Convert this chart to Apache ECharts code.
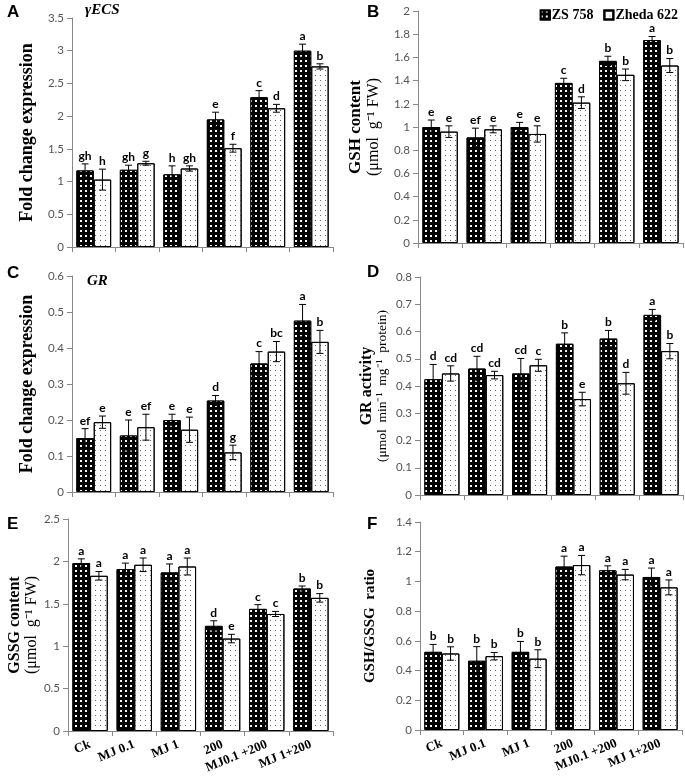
<!DOCTYPE html>
<html><head><meta charset="utf-8">
<script src="https://cdn.jsdelivr.net/npm/echarts@6/dist/echarts.min.js"></script>
<style>html,body{margin:0;padding:0;background:#fff}#c{width:685px;height:784px}</style>
</head><body><div id="c"></div>
<script>
var categories = ['Ck','MJ 0.1','MJ 1','200','MJ0.1 +200','MJ 1+200'];
var seriesNames = ['ZS 758','Zheda 622'];

// A: gamma ECS fold change
var aZS = [1.17, 1.18, 1.11, 1.95, 2.29, 3.00];
var aZSErr = [0.10, 0.07, 0.13, 0.11, 0.10, 0.10];
var aZSLet = ['gh','gh','h','e','c','a'];
var aZH = [1.03, 1.28, 1.20, 1.51, 2.12, 2.76];
var aZHErr = [0.16, 0.03, 0.04, 0.06, 0.06, 0.04];
var aZHLet = ['h','g','gh','f','d','b'];
var aTicks = {min:0, max:3.5, interval:0.5};

// B: GSH content
var bZS = [1.00, 0.91, 1.00, 1.38, 1.57, 1.75];
var bZSErr = [0.06, 0.08, 0.04, 0.04, 0.04, 0.03];
var bZSLet = ['e','ef','e','c','b','a'];
var bZH = [0.96, 0.98, 0.94, 1.21, 1.45, 1.53];
var bZHErr = [0.05, 0.03, 0.07, 0.05, 0.05, 0.06];
var bZHLet = ['e','e','e','d','b','b'];
var bTicks = {min:0, max:2, interval:0.2};

// C: GR fold change
var cZS = [0.150, 0.157, 0.200, 0.254, 0.357, 0.476];
var cZSErr = [0.026, 0.043, 0.016, 0.014, 0.033, 0.045];
var cZSLet = ['ef','e','e','d','c','a'];
var cZH = [0.194, 0.180, 0.173, 0.110, 0.390, 0.417];
var cZHErr = [0.017, 0.036, 0.035, 0.020, 0.028, 0.032];
var cZHLet = ['e','ef','e','g','bc','b'];
var cTicks = {min:0, max:0.6, interval:0.1};

// D: GR activity
var dZS = [0.425, 0.464, 0.446, 0.555, 0.574, 0.661];
var dZSErr = [0.054, 0.045, 0.055, 0.040, 0.030, 0.020];
var dZSLet = ['d','cd','cd','b','b','a'];
var dZH = [0.446, 0.440, 0.476, 0.352, 0.410, 0.528];
var dZHErr = [0.028, 0.014, 0.022, 0.025, 0.040, 0.028];
var dZHLet = ['cd','cd','c','e','d','b'];
var dTicks = {min:0, max:0.8, interval:0.1};

// E: GSSG content
var eZS = [1.98, 1.91, 1.87, 1.24, 1.44, 1.68];
var eZSErr = [0.05, 0.07, 0.10, 0.06, 0.05, 0.03];
var eZSLet = ['a','a','a','d','c','b'];
var eZH = [1.83, 1.96, 1.94, 1.09, 1.38, 1.57];
var eZHErr = [0.05, 0.08, 0.10, 0.05, 0.03, 0.05];
var eZHLet = ['a','a','a','e','c','b'];
var eTicks = {min:0, max:2.5, interval:0.5};

// F: GSH/GSSG ratio
var fZS = [0.526, 0.466, 0.526, 1.100, 1.075, 1.030];
var fZSErr = [0.050, 0.095, 0.070, 0.070, 0.030, 0.060];
var fZSLet = ['b','b','b','a','a','a'];
var fZH = [0.515, 0.497, 0.480, 1.110, 1.046, 0.960];
var fZHErr = [0.045, 0.025, 0.060, 0.065, 0.035, 0.050];
var fZHLet = ['b','b','b','a','a','a'];
var fTicks = {min:0, max:1.4, interval:0.2};

var panels = [
  {zs:aZS, zsE:aZSErr, zsL:aZSLet, zh:aZH, zhE:aZHErr, zhL:aZHLet, t:aTicks, grid:{left:72, top:18, right:352, bottom:537}, xl:false,
   name:'{b|Fold change expression}', gap:36},
  {zs:bZS, zsE:bZSErr, zsL:bZSLet, zh:bZH, zhE:bZHErr, zhL:bZHLet, t:bTicks, grid:{left:418, top:11, right:2, bottom:541}, xl:false,
   name:'{n|GSH content}\n{s|(μmol  g⁻¹ FW)}', gap:36},
  {zs:cZS, zsE:cZSErr, zsL:cZSLet, zh:cZH, zhE:cZHErr, zhL:cZHLet, t:cTicks, grid:{left:72, top:276, right:352, bottom:292}, xl:false,
   name:'{b|Fold change expression}', gap:36},
  {zs:dZS, zsE:dZSErr, zsL:dZSLet, zh:dZH, zhE:dZHErr, zhL:dZHLet, t:dTicks, grid:{left:420, top:277, right:2, bottom:289}, xl:false,
   name:'{d|GR activity}\n{sd|(μmol  min⁻¹  mg⁻¹  protein)}', gap:30},
  {zs:eZS, zsE:eZSErr, zsL:eZSLet, zh:eZH, zhE:eZHErr, zhL:eZHLet, t:eTicks, grid:{left:68, top:519, right:352, bottom:53}, xl:true,
   name:'{e|GSSG content}\n{s|(μmol  g⁻¹ FW)}', gap:28},
  {zs:fZS, zsE:fZSErr, zsL:fZSLet, zh:fZH, zhE:fZHErr, zhL:fZHLet, t:fTicks, grid:{left:420, top:522, right:3, bottom:54}, xl:true,
   name:'{f|GSH/GSSG  ratio}', gap:42}
];

var serif = '"Liberation Serif","Times New Roman",serif';
var sans = 'Lato, "Open Sans", sans-serif';

var blackStyle = {color:'#000', borderColor:'#000', borderWidth:1,
  decal:{symbol:'rect', symbolSize:1, color:'#fff', dashArrayX:[1.5,3], dashArrayY:[1.5,3]}};
var whiteStyle = {color:'#fff', borderColor:'#000', borderWidth:1,
  decal:{symbol:'rect', symbolSize:1, color:'#666', dashArrayX:[1,3.5], dashArrayY:[1,3.5]}};

function errRender(side, letters) {
  return function(params, api) {
    var i = api.value(0), v = api.value(1), e = api.value(2);
    var band = api.size([1, 0])[0];
    var x = api.coord([i, v])[0] + side * band * 0.2;
    var yt = api.coord([i, v + e])[1];
    var yb = api.coord([i, v - e])[1];
    var cap = 3.5;
    var ls = {stroke:'#000', lineWidth:1};
    return {type:'group', children:[
      {type:'line', shape:{x1:x, y1:yt, x2:x, y2:yb}, style:ls},
      {type:'line', shape:{x1:x-cap, y1:yt, x2:x+cap, y2:yt}, style:ls},
      {type:'line', shape:{x1:x-cap, y1:yb, x2:x+cap, y2:yb}, style:ls},
      {type:'text', style:{text:letters[params.dataIndex], x:x, y:yt-2, align:'center', verticalAlign:'bottom',
        fontFamily:sans, fontWeight:'bold', fontSize:12, fill:'#000'}}
    ]};
  };
}

var richNames = {
  b:{fontFamily:serif, fontWeight:'bold', fontSize:18, color:'#000'},
  n:{fontFamily:serif, fontWeight:'bold', fontSize:17, color:'#000', lineHeight:19},
  s:{fontFamily:serif, fontWeight:'normal', fontSize:16, color:'#000', lineHeight:17},
  d:{fontFamily:serif, fontWeight:'bold', fontSize:16, color:'#000', lineHeight:17},
  sd:{fontFamily:serif, fontWeight:'normal', fontSize:13.5, color:'#000', lineHeight:15},
  e:{fontFamily:serif, fontWeight:'bold', fontSize:16, color:'#000', lineHeight:17},
  f:{fontFamily:serif, fontWeight:'bold', fontSize:15, color:'#000'}
};

var grids = [], xAxes = [], yAxes = [], series = [];
panels.forEach(function(p, k) {
  grids.push(Object.assign({containLabel:false}, p.grid));
  xAxes.push({type:'category', gridIndex:k, data:categories,
    axisLine:{lineStyle:{color:'#888', width:1}},
    axisTick:{show:true, length:5, lineStyle:{color:'#888'}},
    axisLabel:{show:p.xl, rotate:22, margin:13, fontFamily:serif, fontWeight:'bold', fontSize:13, color:'#000', interval:0}
  });
  yAxes.push({type:'value', gridIndex:k, min:p.t.min, max:p.t.max, interval:p.t.interval,
    axisLine:{show:true, lineStyle:{color:'#888', width:1}},
    axisTick:{show:true, length:5, lineStyle:{color:'#888'}},
    splitLine:{show:false},
    axisLabel:{fontFamily:sans, fontSize:11.5, color:'#555', margin:8},
    name:p.name, nameLocation:'middle', nameRotate:90, nameGap:p.gap,
    nameTextStyle:{fontFamily:serif, color:'#000', rich:richNames}
  });
  series.push({name:seriesNames[0], type:'bar', xAxisIndex:k, yAxisIndex:k, data:p.zs,
    barWidth:'40%', barGap:'0%', itemStyle:blackStyle, silent:true});
  series.push({name:seriesNames[1], type:'bar', xAxisIndex:k, yAxisIndex:k, data:p.zh,
    barWidth:'40%', barGap:'0%', itemStyle:whiteStyle, silent:true});
  series.push({type:'custom', xAxisIndex:k, yAxisIndex:k, z:10, silent:true, clip:false,
    data:p.zs.map(function(v,i){return [i, v, p.zsE[i]];}), renderItem:errRender(-1, p.zsL)});
  series.push({type:'custom', xAxisIndex:k, yAxisIndex:k, z:10, silent:true, clip:false,
    data:p.zh.map(function(v,i){return [i, v, p.zhE[i]];}), renderItem:errRender(1, p.zhL)});
});

var letterStyle = {fontFamily:'"Liberation Sans", Arial, sans-serif', fontWeight:'bold', fontSize:17, fill:'#000'};
function panelLetter(t, x, y){ return {type:'text', left:x, top:y, style:Object.assign({text:t}, letterStyle)}; }

var chart = echarts.init(document.getElementById('c'), null, {renderer:'canvas'});
chart.setOption({
  animation:false,
  backgroundColor:'#fff',
  legend:{data:seriesNames, right:2, top:3, itemWidth:9, itemHeight:9, itemGap:10, icon:'rect',
    textStyle:{fontFamily:serif, fontWeight:'bold', fontSize:14, color:'#000', padding:[0,0,0,-3]}},
  grid:grids, xAxis:xAxes, yAxis:yAxes, series:series,
  graphic:[
    panelLetter('A', 7, 4), panelLetter('B', 367, 4),
    panelLetter('C', 7, 265), panelLetter('D', 367, 264),
    panelLetter('E', 7, 516), panelLetter('F', 367, 516),
    {type:'text', left:85, top:3, style:{text:'γECS', fontFamily:serif, fontStyle:'italic', fontWeight:'bold', fontSize:15, fill:'#000'}},
    {type:'text', left:87, top:274, style:{text:'GR', fontFamily:serif, fontStyle:'italic', fontWeight:'bold', fontSize:15, fill:'#000'}}
  ]
});
</script></body></html>
